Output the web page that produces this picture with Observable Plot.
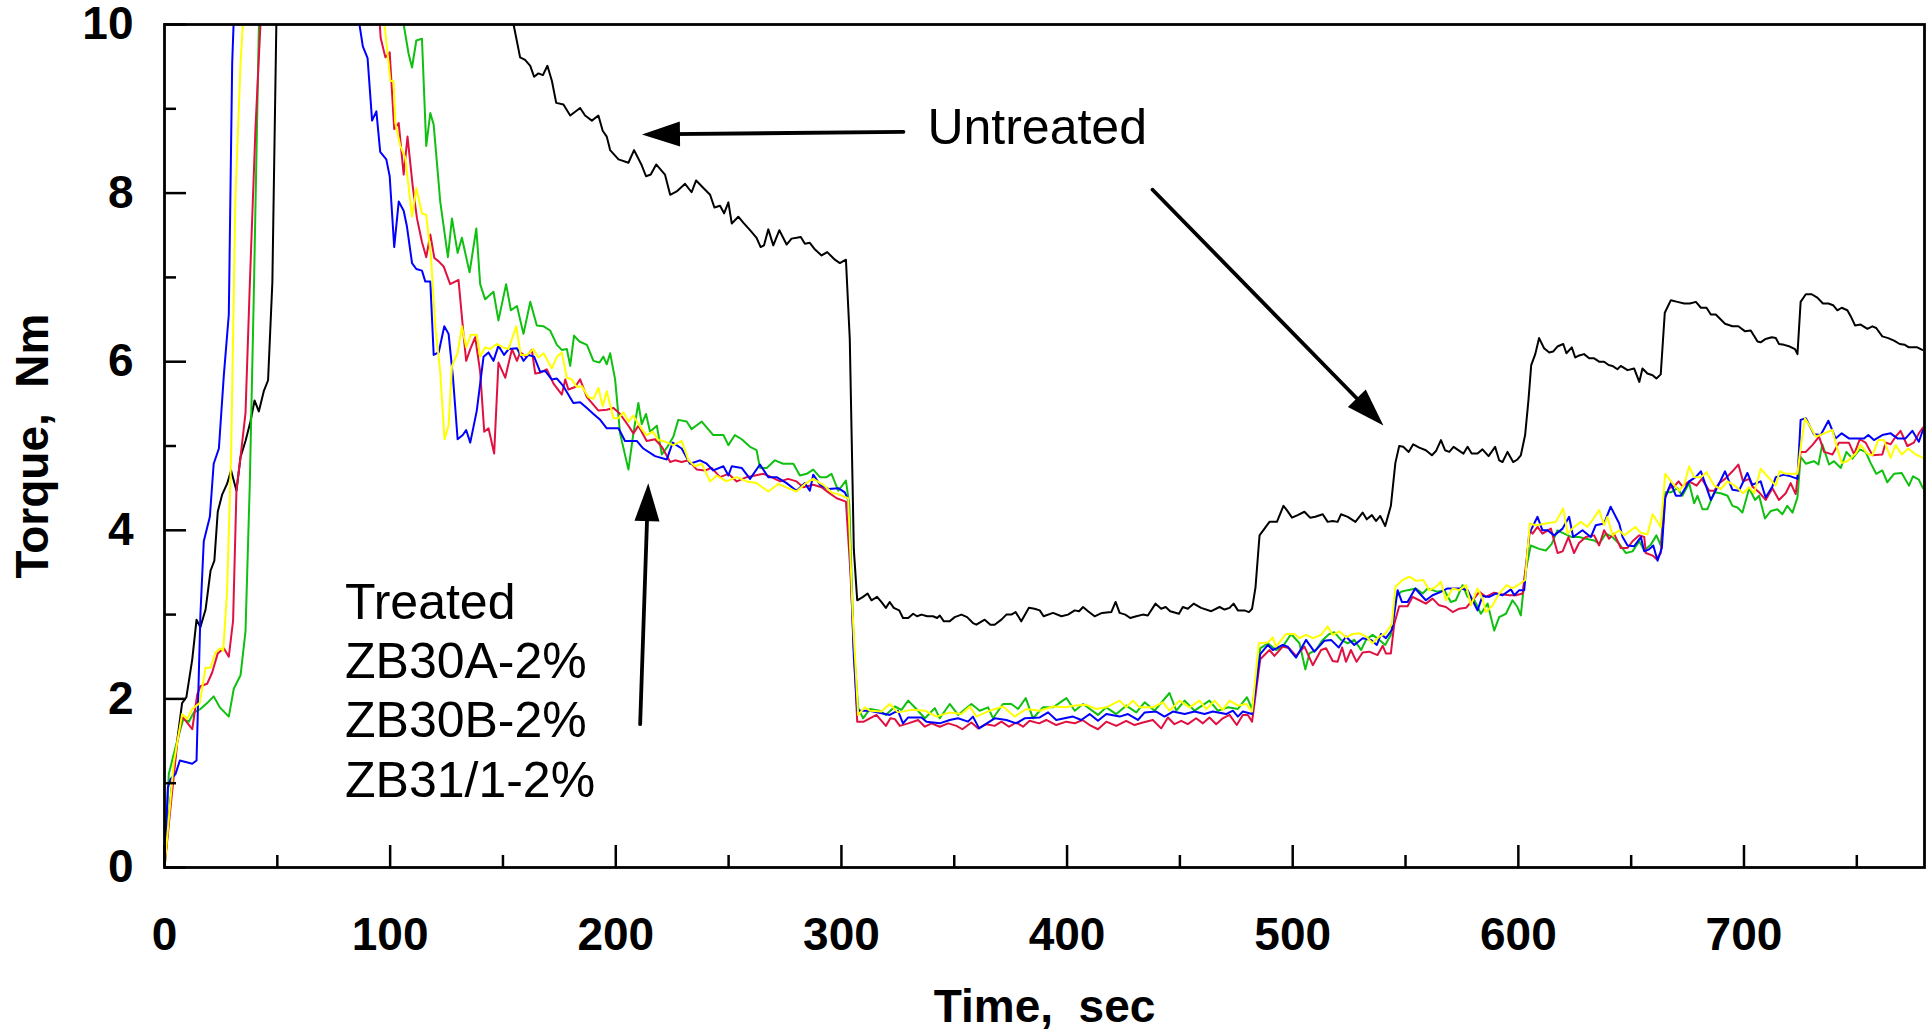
<!DOCTYPE html>
<html>
<head>
<meta charset="utf-8">
<script src="https://cdn.jsdelivr.net/npm/d3@7"></script>
<script src="https://cdn.jsdelivr.net/npm/@observablehq/plot@0.6"></script>
<style>
  html, body { margin: 0; padding: 0; background: #fff; }
  svg text { white-space: pre; }
</style>
</head>
<body>
<div id="chart"></div>
<script>
// ---- tick values ----
const xMajor = [0, 100, 200, 300, 400, 500, 600, 700];
const xMinor = [50, 150, 250, 350, 450, 550, 650, 750];
const yMajor = [0, 2, 4, 6, 8, 10];
const yMinor = [1, 3, 5, 7, 9];

// ---- series: [time (s), torque (Nm)] ----
const untreated = [[0,0],[3,0.9],[5.6,1.5],[7.8,1.95],[9.7,2.02],[12.3,2.47],[14.2,2.94],[15.9,2.85],[18.2,3.06],[20.4,3.52],[22.1,3.64],[23.6,4.22],[25.5,4.42],[27.7,4.55],[29.5,4.71],[31.9,4.47],[33.7,4.87],[35.9,5.06],[38.1,5.29],[39.9,5.54],[41.8,5.41],[44,5.65],[45.9,5.78],[47.8,6.94],[49.6,10.06],[50.5,10.8],[153.5,10.8],[154.7,10.0],[157.6,9.61],[159.8,9.58],[162.1,9.51],[163.8,9.38],[165.7,9.42],[167.7,9.40],[169.7,9.51],[171.7,9.33],[173.6,9.07],[176.8,9.05],[179.8,8.92],[184.2,9.01],[186.4,8.92],[189.4,8.86],[192.3,8.92],[194.2,8.74],[196,8.67],[197.5,8.51],[201.2,8.40],[205.6,8.36],[208.1,8.51],[211.5,8.33],[213.4,8.20],[215.5,8.22],[217.9,8.34],[221.8,8.22],[224.1,7.98],[227,8.02],[230.7,8.11],[233.6,8.01],[235.6,8.15],[239.6,8.04],[241.8,7.98],[243.7,7.83],[246.2,7.85],[248,7.76],[249.9,7.89],[251.4,7.64],[254.3,7.72],[256.5,7.65],[259.5,7.56],[262.4,7.47],[264.2,7.36],[265.7,7.38],[267.6,7.57],[269.8,7.38],[272.5,7.56],[275.7,7.39],[277.9,7.46],[280.1,7.47],[282,7.48],[283.8,7.40],[286,7.41],[288.3,7.33],[291.2,7.26],[293.7,7.30],[297.1,7.21],[299.3,7.17],[302,7.21],[303.7,6.27],[305.5,3.77],[307,3.17],[309.6,3.21],[311.6,3.25],[313.3,3.17],[315.8,3.21],[317.7,3.15],[319.7,3.08],[321.4,3.15],[323.2,3.08],[325.6,3.05],[327.3,2.96],[329.6,2.96],[331.8,3.01],[333.5,2.98],[335.5,3.0],[338,2.98],[340.6,2.98],[342.4,2.96],[343.6,2.99],[345.4,2.92],[348,2.92],[350.2,2.97],[353.2,3.0],[355.7,2.97],[358.3,2.90],[359.8,2.88],[363.5,2.94],[366,2.88],[367.9,2.88],[370.9,2.94],[373.1,3.0],[375.3,3.0],[377.2,3.03],[379.7,2.92],[383.1,3.08],[385.6,3.07],[387.9,3.05],[389.6,2.98],[393.8,3.02],[397.5,2.98],[400.4,3.0],[403.4,3.05],[405.3,3.04],[407.1,3.09],[409.3,3.04],[412.2,2.98],[415.5,3.02],[419.6,3.03],[421.5,3.15],[423.3,3.02],[425.8,3.0],[428,2.96],[430.7,2.98],[433.6,3.0],[435.8,2.99],[439.2,3.13],[441.7,3.07],[443.7,3.09],[445.7,3.04],[449.6,3.01],[451.3,3.09],[453.5,3.07],[456.1,3.13],[459.4,3.08],[463.9,3.04],[467.6,3.09],[469.8,3.06],[472,3.08],[473.8,3.13],[475.7,3.05],[478.6,3.05],[480.6,3.03],[482,3.07],[483.5,3.32],[485.3,3.94],[487.5,4.02],[489.7,4.10],[493,4.10],[495.9,4.29],[497.4,4.24],[499.7,4.15],[502.2,4.18],[505.2,4.22],[507.7,4.15],[510,4.16],[513.3,4.19],[515.5,4.10],[517.7,4.11],[519.9,4.10],[521.4,4.19],[524.4,4.16],[527.8,4.10],[531,4.21],[532.8,4.13],[535.1,4.18],[536.9,4.11],[538.8,4.17],[541,4.05],[543.5,4.29],[545.5,4.80],[547.2,5.00],[549,4.99],[551.4,4.93],[553.4,5.02],[556.1,4.98],[559,4.95],[561.7,4.89],[563.5,4.94],[565.7,5.07],[567.5,4.95],[569.4,4.93],[571.3,4.99],[574.5,4.93],[575.7,4.91],[577.5,4.99],[579.3,4.91],[581.9,4.91],[584.1,4.96],[586.8,4.88],[589.7,4.99],[591.5,4.83],[593,4.81],[595.2,4.93],[597.7,4.81],[599.6,4.84],[601.1,4.89],[603,5.13],[604.5,5.55],[605.7,5.96],[607.5,6.09],[609.2,6.28],[611.4,6.16],[613.7,6.11],[615.4,6.12],[617.3,6.18],[619.9,6.21],[621.3,6.10],[623.7,6.17],[625.2,6.05],[626.6,6.07],[629.1,6.09],[631.4,6.04],[633.6,6.04],[635.8,6.0],[638,6.0],[640,5.96],[641.7,5.95],[643.9,5.91],[645.4,5.95],[648.4,5.90],[651.3,5.92],[653.6,5.76],[655,5.92],[657.2,5.86],[659.5,5.84],[661.2,5.80],[663.1,5.85],[664.9,6.58],[667.6,6.73],[670.5,6.71],[673.5,6.69],[676,6.69],[678.7,6.71],[680.9,6.64],[683.4,6.64],[685.3,6.56],[687.5,6.56],[691.6,6.45],[694.9,6.42],[697.5,6.42],[700.5,6.36],[703,6.37],[706,6.24],[707.4,6.23],[709.6,6.27],[712.3,6.29],[714.1,6.28],[715.5,6.21],[717.8,6.20],[720.3,6.18],[722.6,6.15],[723.7,6.09],[725.1,6.71],[727.4,6.80],[730,6.80],[732.5,6.76],[735,6.69],[737.4,6.69],[739.5,6.67],[741.4,6.61],[743.3,6.64],[745.8,6.61],[747.3,6.54],[749.2,6.43],[751.7,6.44],[754.7,6.39],[756.9,6.42],[758.6,6.40],[761.3,6.30],[763.9,6.28],[766.5,6.25],[769,6.21],[771.3,6.20],[773.1,6.17],[776.8,6.17],[779,6.14]];

const treatedGreen = [[0,0],[1.9,1.11],[4.9,1.43],[8.3,1.76],[10.8,1.73],[13,1.84],[15.9,1.88],[18.9,1.95],[21.8,2.03],[24.5,1.90],[28.5,1.79],[30.7,2.12],[33.7,2.28],[35.9,2.80],[37.8,4.55],[39.6,6.82],[41.8,9.93],[42.5,10.8],[104.5,10.8],[106,10.0],[108.2,9.65],[109.7,9.49],[111.6,9.81],[114.1,9.83],[116,8.56],[117.8,8.95],[119.3,8.81],[122.2,7.90],[125.6,7.24],[127.4,7.70],[129.9,7.29],[131.8,7.47],[135.2,7.06],[138.2,7.58],[139.9,6.92],[142.1,6.74],[145.8,6.83],[148,6.49],[151.4,6.92],[153.5,6.61],[156.2,6.66],[159.1,6.33],[162.1,6.71],[165,6.43],[168,6.42],[170.9,6.37],[173.9,6.20],[176.1,6.14],[178.3,6.15],[179.8,5.95],[181.5,6.31],[183.9,6.24],[187.2,6.20],[190.1,6.01],[192.8,5.99],[194.5,6.06],[196,5.97],[197.5,6.10],[199.7,5.79],[201.9,5.15],[205.6,4.72],[207.8,5.15],[210,5.51],[211.5,5.26],[213.4,5.38],[215.2,5.17],[218.2,5.24],[220.4,4.90],[222.9,4.99],[225.5,5.11],[227.7,5.31],[231.4,5.29],[233.6,5.20],[238.1,5.29],[243.2,5.13],[247.7,5.13],[249.9,5.01],[252.8,5.13],[255.8,5.08],[259.5,4.99],[262.4,4.95],[263.9,4.74],[266.9,4.74],[270.5,4.83],[274.2,4.79],[278.7,4.79],[281.6,4.65],[284.6,4.67],[287.5,4.72],[290.5,4.63],[293.4,4.63],[295.6,4.67],[298.6,4.47],[302,4.59],[303.5,4.3],[305.5,2.6],[307.4,1.90],[309.6,1.77],[312.6,1.88],[317,1.86],[319.7,1.81],[323.7,1.91],[326.6,1.87],[329.6,1.98],[333.2,1.88],[337,1.77],[341.4,1.89],[343.6,1.77],[348,1.94],[351.7,1.81],[357.6,1.94],[361.3,1.86],[365,1.90],[367.2,1.77],[371.6,1.94],[375.3,1.94],[378.3,1.88],[381.7,2.01],[384.9,1.77],[389.3,1.90],[393.8,1.90],[399.7,2.01],[403.4,1.86],[407.1,1.94],[413.7,1.81],[417.4,1.90],[421.8,1.82],[426.2,1.92],[430.7,1.84],[434.4,1.96],[438.8,1.86],[445.4,2.07],[448.4,1.86],[452.1,1.98],[456.5,1.86],[463.1,1.98],[466.8,1.86],[471.3,1.90],[475.7,1.88],[479.7,2.02],[482,1.88],[485.6,2.60],[489,2.66],[492.6,2.58],[495.6,2.62],[499.3,2.77],[503,2.66],[505.6,2.35],[507.4,2.54],[510.3,2.58],[513.3,2.70],[516.2,2.77],[518.5,2.79],[521.4,2.70],[524.4,2.66],[527.3,2.70],[530.3,2.58],[532.5,2.70],[535.4,2.76],[538.4,2.70],[541,2.64],[543.5,2.76],[545.8,3.21],[548,3.27],[550.9,3.29],[554.6,3.31],[557.6,3.25],[559.8,3.31],[562,3.29],[564.2,3.27],[567.2,3.29],[570.1,3.15],[572.3,3.17],[575.3,3.35],[577.5,3.21],[580.5,3.17],[583.4,3.01],[586.4,3.13],[589.3,2.81],[591.5,2.97],[594.5,3.01],[597.4,3.17],[599.6,3.09],[601.1,2.99],[603,3.49],[605.5,3.82],[609.2,3.78],[612.2,3.76],[614.8,3.84],[617.3,4.0],[620.3,3.96],[623.7,3.92],[626.9,3.92],[629.9,3.90],[633.6,3.88],[635.8,3.84],[638.8,3.96],[641.7,3.92],[644.7,3.84],[647.7,3.73],[650.6,3.75],[653.6,3.87],[655.8,3.76],[658.7,3.83],[661.2,3.94],[663.1,3.82],[665.1,4.45],[667.6,4.45],[670.5,4.50],[672.7,4.41],[675.7,4.56],[677.9,4.32],[679.4,4.41],[681.6,4.25],[683.8,4.25],[686.8,4.45],[689.7,4.44],[692.7,4.41],[694.9,4.29],[697.1,4.27],[699.3,4.21],[702.3,4.50],[704.9,4.36],[706.7,4.41],[709.3,4.14],[711.9,4.23],[714.8,4.25],[717,4.19],[719.2,4.29],[721.5,4.21],[723.7,4.39],[725.1,4.87],[727.4,4.79],[731,4.82],[733,4.78],[734.7,5.02],[737.7,4.78],[739.9,4.82],[742.9,4.74],[745.4,4.93],[748,4.85],[751.3,4.96],[753.9,4.93],[756.1,4.80],[758.6,4.67],[761.3,4.71],[763.5,4.57],[766.5,4.67],[769.9,4.68],[773.1,4.53],[774.9,4.64],[777.5,4.60],[779.3,4.50]];

const treatedRed = [[0,0],[2.7,0.72],[5.6,1.47],[7.8,1.79],[9.7,1.73],[12.3,1.64],[14.5,2.05],[15.9,2.15],[18.9,2.18],[21.1,2.31],[23.6,2.54],[26.3,2.60],[28.5,2.50],[30.4,2.93],[31.9,4.48],[33.7,4.87],[35.9,5.39],[37.8,6.91],[40.3,8.76],[42.5,9.99],[43.5,10.8],[94,10.8],[95.4,10.0],[95.8,9.84],[97.9,9.61],[99.8,9.67],[101.8,8.76],[103.8,8.83],[106,8.22],[107.7,8.67],[110.1,8.06],[111.9,7.70],[114.1,7.42],[116,7.24],[117.8,7.51],[119.6,7.23],[121.5,7.19],[123.7,7.13],[126.6,6.92],[130.3,6.97],[132.5,6.33],[133.7,6.01],[135.5,6.15],[137.7,6.29],[139.9,5.88],[141.7,5.17],[143.6,5.21],[146.1,4.91],[148,5.99],[151,5.81],[154,6.15],[156.2,6.01],[157.6,6.11],[160.3,6.06],[162.8,6.14],[164.3,5.86],[166.5,5.87],[169.4,5.91],[172.4,5.74],[176.1,5.61],[177.6,5.79],[179,5.67],[182,5.70],[184.2,5.79],[187.2,5.58],[192.3,5.42],[196,5.43],[199,5.45],[201.9,5.38],[205.6,5.24],[207.8,5.15],[210,5.24],[213.7,5.06],[217.4,5.08],[220.4,4.99],[224.1,4.81],[226.3,4.83],[229.2,4.81],[232.2,4.83],[235.9,4.72],[239.5,4.71],[242.5,4.74],[246.2,4.63],[249.9,4.67],[253.6,4.58],[258,4.63],[261.7,4.65],[265.4,4.67],[268.3,4.64],[272.8,4.58],[276.4,4.61],[280.1,4.58],[283.1,4.51],[287.5,4.54],[291.2,4.51],[294.2,4.45],[297.9,4.38],[302,4.34],[304,3.5],[307,1.73],[309.9,1.73],[315.5,1.81],[319.7,1.68],[321.7,1.77],[323.7,1.76],[325.9,1.68],[329.6,1.71],[334,1.75],[337,1.67],[339.9,1.71],[343.6,1.67],[347.3,1.71],[351,1.68],[353.6,1.64],[357.6,1.72],[360.6,1.65],[364.2,1.70],[367.9,1.68],[370.9,1.73],[374.3,1.67],[377.5,1.72],[380.5,1.67],[383.4,1.74],[387.6,1.71],[390.8,1.75],[395.2,1.69],[399.7,1.73],[403.4,1.71],[406.8,1.75],[410,1.69],[413.7,1.64],[417.4,1.73],[421.8,1.68],[426.2,1.74],[429.9,1.69],[433.6,1.72],[438,1.75],[441.7,1.65],[444.7,1.78],[447.6,1.70],[450.6,1.74],[453.5,1.70],[457.2,1.77],[460.2,1.71],[463.1,1.78],[466.1,1.70],[469,1.77],[472,1.81],[475.2,1.69],[477.9,1.81],[480.1,1.81],[482,1.73],[485.6,2.47],[489.7,2.58],[491.9,2.51],[495.6,2.62],[498.5,2.60],[501.5,2.51],[505.2,2.62],[508.9,2.40],[512.6,2.58],[514.8,2.60],[517.7,2.45],[519.9,2.44],[521.9,2.61],[523.6,2.44],[525.8,2.58],[528.3,2.44],[531,2.55],[533.9,2.56],[537.6,2.52],[539.9,2.63],[541.3,2.54],[543.5,2.54],[545,2.89],[547.2,3.10],[550.9,3.10],[553.1,3.21],[556.1,3.17],[559,3.13],[562,3.19],[564.9,3.11],[567.9,3.09],[570.9,3.03],[573.8,3.07],[576.8,3.08],[579.7,3.17],[582.7,3.27],[585.6,3.21],[589.3,3.26],[592.3,3.24],[596,3.23],[598.9,3.23],[601.9,3.25],[603.3,3.57],[605.1,4.0],[606.3,3.96],[608.5,4.04],[610.7,3.96],[614.4,4.02],[617.4,3.73],[619.6,3.75],[622.2,3.92],[624.7,3.73],[626.9,3.85],[629.9,3.92],[633.6,3.94],[635.8,3.82],[638,4.0],[640.2,3.90],[642.4,3.96],[645.4,3.79],[648.4,3.79],[650.6,3.87],[653.6,3.94],[655.8,3.92],[656.5,3.73],[659.5,3.70],[661.2,3.66],[663.1,3.73],[665.1,4.39],[666.8,4.50],[669.1,4.52],[671,4.58],[672.7,4.52],[675.7,4.58],[679,4.53],[681.3,4.61],[684.6,4.47],[686.8,4.47],[689,4.56],[691.6,4.61],[694.9,4.70],[697.5,4.78],[699.6,4.58],[702.3,4.61],[703.7,4.52],[706.7,4.45],[709.6,4.36],[712.6,4.50],[715.5,4.36],[718.5,4.44],[720.7,4.56],[722.9,4.43],[725.1,4.93],[727.4,4.93],[730.3,5.01],[733.3,5.11],[735.5,4.93],[739.2,4.90],[742.1,5.04],[746.5,5.04],[748.8,4.90],[751.3,5.08],[753.9,5.04],[756.9,4.89],[761.3,4.90],[762.8,5.04],[765,5.02],[767.2,5.11],[769.4,5.18],[772.4,5.00],[775.3,5.04],[777.5,5.15],[779.3,5.22]];

const treatedBlue = [[0,0],[1.5,0.95],[2.7,1.05],[4.9,1.11],[6.8,1.27],[12.3,1.23],[14.2,1.27],[15.9,2.99],[17.4,3.87],[20.1,4.16],[21.8,4.79],[24.1,4.97],[26.3,5.84],[28.5,6.56],[30,9.54],[31,10.3],[32,10.8],[85,10.8],[86.4,10.0],[87.9,9.74],[90,9.6],[92,8.86],[93.9,8.97],[95.6,8.49],[98.3,8.40],[99.8,8.20],[101.8,7.36],[103.8,7.90],[106,7.79],[107.4,7.61],[109.7,7.17],[111.6,7.10],[114.1,7.08],[115.6,6.95],[117.8,6.95],[119.3,6.08],[121.5,6.11],[124,6.42],[125.9,6.33],[127.8,5.83],[129.9,5.08],[132.2,5.13],[133.7,5.19],[135.5,5.04],[138.4,5.42],[141.4,6.06],[143.6,6.11],[145.8,6.01],[148,6.19],[150.5,6.08],[152.5,6.15],[156.2,6.16],[159.1,6.01],[161.3,6.08],[163.8,6.06],[166.5,5.88],[168.7,5.89],[171.6,5.79],[173.9,5.80],[176.5,5.72],[178.3,5.64],[181.2,5.51],[184.2,5.52],[187.2,5.45],[190.1,5.38],[193.1,5.31],[196,5.21],[201.2,5.21],[204.1,5.06],[209.3,5.06],[212.2,4.97],[217.4,4.88],[222.6,4.84],[225.2,5.04],[229.2,4.97],[232.9,4.79],[237.3,4.83],[240.3,4.79],[243.2,4.71],[247.7,4.76],[249.9,4.65],[251.4,4.76],[255.8,4.74],[259.5,4.61],[263.9,4.78],[267.6,4.63],[271.3,4.63],[275.7,4.56],[280.1,4.47],[283.8,4.56],[286,4.47],[287.5,4.66],[290.5,4.54],[294.2,4.49],[298.6,4.50],[301.5,4.45],[303,4.36],[305.5,2.5],[307,1.86],[312.6,1.86],[321.4,1.81],[325,1.86],[327.3,1.71],[329.6,1.78],[335.5,1.78],[337.7,1.73],[343.6,1.71],[348,1.75],[351.7,1.77],[356.1,1.73],[358.3,1.79],[361,1.65],[367.9,1.77],[373.1,1.75],[377.5,1.71],[381.2,1.77],[387.9,1.78],[391.6,1.84],[395.2,1.75],[402.6,1.79],[406.3,1.75],[410,1.82],[413.7,1.74],[417.4,1.82],[423.3,1.79],[427,1.82],[431.4,1.75],[434.4,1.84],[439.5,1.85],[443.2,1.79],[446.9,1.85],[452.1,1.82],[456.5,1.85],[460.9,1.82],[464.6,1.85],[470.5,1.82],[473.5,1.86],[475.7,1.79],[477.9,1.85],[482,1.82],[485.6,2.53],[489,2.64],[491.2,2.58],[495.6,2.64],[497.8,2.62],[499.3,2.56],[501.5,2.49],[505.9,2.70],[509.6,2.56],[514,2.69],[517,2.70],[520.4,2.61],[523.6,2.74],[527.3,2.64],[531,2.72],[534.7,2.70],[537.3,2.64],[539.1,2.77],[541.3,2.72],[544,2.82],[546.5,3.29],[548.4,3.15],[550.9,3.15],[554.3,3.31],[559,3.17],[562,3.23],[565.7,3.27],[568.6,3.31],[571.6,3.31],[574.5,3.31],[577.5,3.29],[579.7,3.17],[581.9,3.05],[584.1,3.22],[587.1,3.21],[590,3.25],[593,3.23],[596.7,3.30],[598.2,3.23],[600.4,3.29],[602.6,3.29],[604.8,3.96],[608.5,4.16],[610.7,4.0],[612.9,4.0],[615.9,3.94],[619.6,4.02],[622.5,4.16],[624.3,3.92],[628.4,4.0],[632.1,3.92],[634.3,4.06],[638,4.08],[640.9,4.28],[644.7,4.08],[646.2,3.92],[648.4,3.82],[651.3,3.81],[654.3,3.92],[655.8,3.75],[657.7,3.77],[659.8,3.82],[661.7,3.64],[663.6,3.79],[665.1,4.39],[667.6,4.56],[669.8,4.41],[672,4.41],[675.7,4.58],[678.6,4.63],[680.9,4.70],[683.1,4.53],[685.3,4.36],[688.2,4.51],[691.6,4.70],[694.9,4.48],[697.8,4.47],[701.5,4.68],[703.7,4.54],[707.4,4.58],[709.6,4.39],[712.6,4.52],[714.1,4.63],[717.8,4.66],[720.7,4.64],[723.7,4.61],[725.1,5.31],[727.4,5.33],[731,5.14],[734,5.13],[737.4,5.30],[740.6,5.09],[743.3,5.15],[746.5,5.09],[749.8,5.09],[753.2,5.09],[755.1,5.13],[757.6,5.07],[761.3,5.13],[765,5.15],[768,5.09],[771.6,5.09],[774.6,5.18],[777.5,5.05],[779.3,5.19]];

const treatedYellow = [[0,0],[4.1,1.24],[7.8,1.82],[10,1.76],[12.3,1.88],[15.6,1.95],[18.2,2.37],[20.4,2.37],[22.6,2.55],[24.8,2.60],[26,2.57],[27.7,3.25],[29.5,4.87],[31.4,7.92],[33.7,9.54],[35.4,10.3],[36.5,10.8],[96,10.8],[97.5,10.0],[100.1,9.33],[101.5,9.33],[102.3,8.83],[104.5,8.56],[106.7,8.42],[109.7,7.72],[111.6,8.06],[114.1,7.76],[116,7.74],[118.1,7.24],[120,6.42],[122.2,5.88],[124.1,5.08],[125.9,5.24],[127.4,5.95],[129.9,6.10],[131.8,6.42],[133.7,6.17],[135.8,6.32],[138.4,6.32],[139.9,6.06],[142.1,6.17],[144.3,6.15],[147.3,6.21],[150,6.17],[152.5,6.15],[155.9,6.42],[157.9,6.08],[160.6,6.08],[163.5,6.15],[165.7,6.05],[168,6.10],[171.7,5.92],[173.9,6.06],[176.1,6.11],[178.3,5.81],[180.5,5.79],[182.7,5.70],[184.9,5.71],[187.9,5.58],[190.1,5.56],[192.3,5.69],[194.2,5.47],[196,5.65],[199,5.33],[201.2,5.33],[203.4,5.40],[205.6,5.29],[207.8,5.36],[211.5,5.20],[213.7,5.13],[216.4,5.17],[218.9,5.07],[221.1,5.06],[225.5,5.01],[229.2,5.06],[232.2,4.83],[235.1,4.76],[238.1,4.79],[241.8,4.58],[244.7,4.65],[249.1,4.58],[253.6,4.63],[258,4.58],[262.4,4.56],[267.6,4.46],[272,4.55],[276.4,4.50],[280.1,4.46],[283.8,4.55],[287.5,4.61],[291.9,4.54],[295.6,4.45],[299.3,4.42],[303,4.38],[305,3.0],[307.4,1.81],[310.4,1.90],[312.6,1.86],[317.7,1.85],[321.4,1.94],[325,1.84],[331,1.87],[337,1.86],[342.1,1.79],[348,1.84],[353.2,1.82],[356.9,1.91],[359.8,1.79],[365.7,1.86],[371.6,1.91],[376.8,1.79],[381.9,1.88],[387.9,1.86],[393.8,1.91],[399.7,1.90],[402.6,1.92],[408.5,1.93],[413,1.88],[417.4,1.90],[423.3,1.98],[426.2,1.90],[429.2,1.98],[432.1,1.90],[438,1.90],[442.5,1.96],[445.4,1.86],[449.9,1.98],[454.3,1.90],[458.7,1.98],[461.7,1.88],[465.4,1.98],[469,1.87],[472,1.98],[475.7,1.92],[479.4,1.94],[482,1.85],[485,2.66],[489,2.67],[491.2,2.73],[492.6,2.62],[497.1,2.77],[500.7,2.77],[503,2.72],[505.9,2.76],[508.9,2.72],[512.6,2.76],[515.5,2.86],[517.7,2.76],[520.7,2.80],[523.6,2.73],[526.6,2.77],[529.5,2.78],[532.5,2.74],[535.4,2.66],[538.4,2.74],[541.3,2.78],[544,2.89],[545.5,3.33],[548.7,3.41],[551.7,3.45],[554.6,3.40],[557.9,3.41],[560.5,3.29],[563.5,3.33],[565.7,3.39],[567.9,3.17],[570.9,3.31],[573.8,3.29],[576.8,3.35],[579,3.11],[581.9,3.31],[584.1,3.19],[585.6,3.03],[588.6,3.11],[591.5,3.25],[594.8,3.35],[597.4,3.31],[600.4,3.36],[603,3.41],[605.1,4.08],[607.8,4.06],[612.2,4.08],[616.6,4.10],[619.9,4.26],[621.8,3.96],[624.7,4.04],[627.7,4.10],[630.6,4.04],[632.8,4.12],[635.8,4.24],[638,4.06],[639.5,4.16],[641.7,3.94],[644.7,4.0],[646.9,3.94],[648.4,3.97],[651.8,4.04],[654.3,3.97],[657.2,3.95],[659.5,4.19],[663.1,4.04],[665.1,4.67],[668.3,4.56],[671.3,4.47],[673.5,4.54],[675.7,4.76],[677.9,4.63],[680.9,4.63],[683.4,4.69],[686.8,4.53],[689.7,4.49],[692.7,4.58],[696.4,4.52],[699.6,4.44],[702.3,4.51],[704.5,4.44],[707.4,4.73],[710.4,4.64],[714.1,4.53],[715.8,4.70],[718.5,4.67],[723.7,4.67],[725.1,4.98],[727,5.33],[729.6,5.22],[731.8,5.11],[734.7,5.14],[739.2,5.19],[740.6,5.04],[743.3,4.80],[745.8,4.82],[749.5,4.91],[751.7,5.01],[754.7,4.91],[756.9,4.89],[759.5,5.07],[762,5.07],[765,4.86],[767.2,5.01],[769.9,4.90],[772.8,4.97],[776.1,4.90],[779.3,4.86]];

// ---- annotations (data coordinates) ----
const labelUntreated = [{t: 338.1, v: 8.77, text: "Untreated"}];
const labelTreated = [{t: 80.0, v: 3.45, text: "Treated\nZB30A-2%\nZB30B-2%\nZB31/1-2%"}];
const arrows = [
  {x1: 327.5, y1: 8.727, x2: 211.6, y2: 8.695},
  {x1: 437.9, y1: 8.04, x2: 540.2, y2: 5.243},
  {x1: 210.8, y1: 1.70, x2: 214.4, y2: 4.559}
];

// ---- layout ----
const W = 1932, H = 1032;
const mL = 164, mR = 8, mT = 24, mB = 165;
const innerW = W - mL - mR, innerH = H - mT - mB;
const xDomain = [0, 780], yDomain = [0, 10];
const pxPerX = innerW / (xDomain[1] - xDomain[0]);
const pxPerY = innerH / (yDomain[1] - yDomain[0]);

const headSymbol = {
  draw(context) {
    const L = 38, w = 12.5;
    context.moveTo(0, 0);
    context.lineTo(w, L);
    context.lineTo(-w, L);
    context.closePath();
  }
};
const headAngle = d => Math.atan2(-(d.y2 - d.y1) * pxPerY, (d.x2 - d.x1) * pxPerX) * 180 / Math.PI + 90;

const lineOpts = (stroke) => ({x: d => d[0], y: d => d[1], stroke, strokeWidth: 2, clip: true, curve: "linear"});

const chart = Plot.plot({
  width: W,
  height: H,
  marginLeft: mL,
  marginRight: mR,
  marginTop: mT,
  marginBottom: mB,
  x: {domain: xDomain},
  y: {domain: yDomain},
  style: {fontFamily: "'Liberation Sans', Arial, sans-serif", background: "#fff", color: "#000"},
  marks: [
    Plot.line(untreated, lineOpts("#000000")),
    Plot.line(treatedGreen, lineOpts("#10c010")),
    Plot.line(treatedRed, lineOpts("#e01040")),
    Plot.line(treatedBlue, lineOpts("#0000ff")),
    Plot.line(treatedYellow, lineOpts("#ffff00")),
    Plot.frame({stroke: "#000", strokeWidth: 2.8}),
    Plot.tickX(xMajor, {x: d => d, insetTop: innerH - 22, stroke: "#000", strokeWidth: 2.5}),
    Plot.tickX(xMinor, {x: d => d, insetTop: innerH - 12, stroke: "#000", strokeWidth: 2.5}),
    Plot.tickY(yMajor, {y: d => d, insetRight: innerW - 22, stroke: "#000", strokeWidth: 2.5}),
    Plot.tickY(yMinor, {y: d => d, insetRight: innerW - 12, stroke: "#000", strokeWidth: 2.5}),
    Plot.axisX(xMajor, {tickSize: 0, tickPadding: 50, tickFormat: d => String(d), fontSize: 46, fontWeight: "bold", label: null}),
    Plot.axisY(yMajor, {tickSize: 0, tickPadding: 31, tickFormat: d => String(d), fontSize: 46, fontWeight: "bold", label: null}),
    Plot.text(["Time,  sec"], {frameAnchor: "bottom", dy: 140, textAnchor: "middle", fontSize: 46, fontWeight: "bold", lineAnchor: "middle", fill: "#000"}),
    Plot.text(["Torque,  Nm"], {frameAnchor: "left", dx: -131, rotate: -90, textAnchor: "middle", fontSize: 46, fontWeight: "bold", lineAnchor: "middle", fill: "#000"}),
    Plot.text(labelUntreated, {x: "t", y: "v", text: "text", textAnchor: "start", lineAnchor: "middle", fontSize: 50, fill: "#000"}),
    Plot.text(labelTreated, {x: "t", y: "v", text: "text", textAnchor: "start", lineAnchor: "top", lineHeight: 1.186, fontSize: 50, fill: "#000"}),
    Plot.arrow(arrows, {x1: "x1", y1: "y1", x2: "x2", y2: "y2", headLength: 0, insetEnd: 28, stroke: "#000", strokeWidth: 3.8}),
    Plot.dot(arrows, {x: "x2", y: "y2", symbol: headSymbol, r: 10, fill: "#000", stroke: null, rotate: headAngle})
  ]
});
document.getElementById("chart").appendChild(chart);
</script>
</body>
</html>
